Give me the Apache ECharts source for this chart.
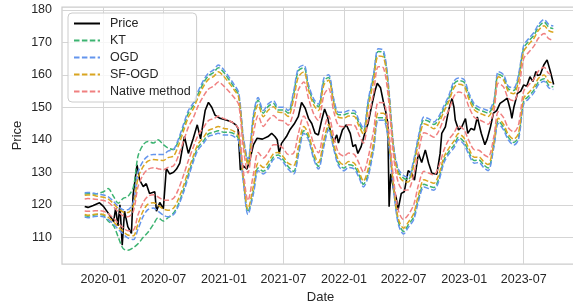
<!DOCTYPE html>
<html>
<head>
<meta charset="utf-8">
<script src="https://cdn.jsdelivr.net/npm/echarts@6/dist/echarts.min.js"></script>
<style>
  html, body { margin: 0; padding: 0; background: #fff; }
  #chart { width: 573px; height: 304px; }
</style>
</head>
<body>
<div id="chart"></div>
<script>
// price series
const priceDates = [
  "2019-11-05", "2019-11-15", "2019-12-01", "2019-12-20", "2020-01-01", "2020-01-15", "2020-02-01", "2020-02-07", "2020-02-14", "2020-02-20",
  "2020-02-27", "2020-03-05", "2020-03-15", "2020-03-26", "2020-03-31", "2020-04-12", "2020-04-20", "2020-05-01", "2020-05-10", "2020-05-20",
  "2020-06-05", "2020-06-10", "2020-06-20", "2020-07-01", "2020-07-10", "2020-07-20", "2020-08-01", "2020-08-10", "2020-08-20", "2020-09-03",
  "2020-09-15", "2020-09-30", "2020-10-12", "2020-10-22", "2020-11-05", "2020-11-15", "2020-11-25", "2020-12-05", "2020-12-20", "2021-01-10",
  "2021-01-25", "2021-02-07", "2021-02-13", "2021-02-20", "2021-03-01", "2021-03-12", "2021-03-20", "2021-04-01", "2021-04-12", "2021-04-28",
  "2021-05-15", "2021-05-26", "2021-06-05", "2021-06-12", "2021-06-18", "2021-06-25", "2021-07-10", "2021-07-20", "2021-08-04", "2021-08-15",
  "2021-08-25", "2021-09-05", "2021-09-15", "2021-09-25", "2021-10-05", "2021-10-15", "2021-10-25", "2021-11-03", "2021-11-12", "2021-11-20",
  "2021-11-25", "2021-12-01", "2021-12-10", "2021-12-15", "2021-12-27", "2022-01-08", "2022-01-20", "2022-01-28", "2022-02-05", "2022-02-12",
  "2022-02-22", "2022-03-05", "2022-03-15", "2022-03-25", "2022-04-05", "2022-04-12", "2022-04-22", "2022-05-02", "2022-05-08", "2022-05-14",
  "2022-05-18", "2022-05-23", "2022-06-01", "2022-06-08", "2022-06-14", "2022-06-24", "2022-07-03", "2022-07-15", "2022-07-25", "2022-08-03",
  "2022-08-15", "2022-08-25", "2022-09-05", "2022-09-15", "2022-09-25", "2022-10-10", "2022-10-20", "2022-10-25", "2022-11-05", "2022-11-15",
  "2022-11-25", "2022-12-01", "2022-12-05", "2022-12-15", "2022-12-25", "2023-01-05", "2023-01-12", "2023-01-22", "2023-02-01", "2023-02-10",
  "2023-02-22", "2023-03-05", "2023-03-12", "2023-03-22", "2023-03-31", "2023-04-10", "2023-04-20", "2023-05-01", "2023-05-12", "2023-05-22",
  "2023-05-26", "2023-06-01", "2023-06-12", "2023-06-22", "2023-07-01", "2023-07-10", "2023-07-20", "2023-07-29", "2023-08-07", "2023-08-12",
  "2023-08-20", "2023-08-31", "2023-09-10", "2023-09-20", "2023-09-30"
];
const priceValues = [
  119.5, 119.2, 119.8, 120.6, 119.5, 117.5, 114.8, 119.0, 113.5, 120.0,
  107.6, 118.0, 113.3, 111.2, 123.0, 132.3, 127.6, 125.6, 126.5, 123.5,
  124.0, 118.0, 120.7, 118.8, 131.2, 129.5, 130.0, 131.0, 132.8, 141.0,
  135.8, 140.5, 144.6, 140.3, 149.0, 151.5, 150.0, 147.6, 146.6, 146.0,
  145.5, 144.5, 143.5, 130.7, 132.0, 131.0, 133.5, 138.5, 140.5, 140.2,
  141.0, 142.0, 141.0, 140.0, 135.8, 138.9, 141.0, 143.0, 145.1, 147.1,
  151.5, 149.7, 146.6, 145.0, 142.0, 141.5, 146.0, 149.5, 147.0, 143.0,
  141.0, 139.4, 141.5, 139.0, 143.0, 144.6, 142.0, 137.9, 138.5, 135.8,
  137.9, 142.0, 145.0, 150.0, 155.0, 157.4, 156.0, 151.0, 148.5, 145.1,
  119.4, 129.5, 124.6, 122.5, 118.4, 123.5, 124.0, 130.5, 129.7, 127.6,
  135.8, 133.0, 136.9, 132.8, 129.7, 129.4, 135.8, 142.0, 144.0, 149.2,
  152.7, 150.0, 146.1, 143.0, 144.0, 146.5, 142.0, 143.5, 143.0, 147.0,
  142.0, 138.5, 140.2, 144.0, 148.2, 149.0, 151.2, 152.0, 152.8, 149.0,
  146.6, 150.0, 154.3, 155.0, 156.9, 156.5, 159.4, 157.9, 161.0, 159.8,
  160.0, 163.0, 164.6, 161.0, 157.0
];

// interval bounds, sampled on the 1st and 15th of each month
const bandDates = [
  "2019-11-05", "2019-11-15", "2019-12-01", "2019-12-15",
  "2020-01-01", "2020-01-15", "2020-02-01", "2020-02-15", "2020-03-01", "2020-03-15", "2020-04-01", "2020-04-15",
  "2020-05-01", "2020-05-15", "2020-06-01", "2020-06-15", "2020-07-01", "2020-07-15", "2020-08-01", "2020-08-15",
  "2020-09-01", "2020-09-15", "2020-10-01", "2020-10-15", "2020-11-01", "2020-11-15", "2020-12-01", "2020-12-15",
  "2021-01-01", "2021-01-15", "2021-02-01", "2021-02-15", "2021-03-01", "2021-03-15", "2021-04-01", "2021-04-15",
  "2021-05-01", "2021-05-15", "2021-06-01", "2021-06-15", "2021-07-01", "2021-07-15", "2021-08-01", "2021-08-15",
  "2021-09-01", "2021-09-15", "2021-10-01", "2021-10-15", "2021-11-01", "2021-11-15", "2021-12-01", "2021-12-15",
  "2022-01-01", "2022-01-15", "2022-02-01", "2022-02-15", "2022-03-01", "2022-03-15", "2022-04-01", "2022-04-15",
  "2022-05-01", "2022-05-15", "2022-06-01", "2022-06-15", "2022-07-01", "2022-07-15", "2022-08-01", "2022-08-15",
  "2022-09-01", "2022-09-15", "2022-10-01", "2022-10-15", "2022-11-01", "2022-11-15", "2022-12-01", "2022-12-15",
  "2023-01-01", "2023-01-15", "2023-02-01", "2023-02-15", "2023-03-01", "2023-03-15", "2023-04-01", "2023-04-15",
  "2023-05-01", "2023-05-15", "2023-06-01", "2023-06-15", "2023-07-01", "2023-07-15", "2023-08-01", "2023-08-15",
  "2023-09-01", "2023-09-15", "2023-09-29"
];

const ktUpper = [
  123.3, 123.4, 123.3, 123.5,
  124.0, 125.0, 122.5, 120.5, 122.0, 122.5, 125.5, 135.0, 138.5, 139.5, 139.0, 140.0, 138.5, 137.5, 137.0, 139.5, 144.2, 148.2, 150.7, 154.2, 157.7, 159.7, 160.7, 162.2,
  160.7, 158.7, 156.2, 153.7, 140.2, 133.2, 147.2, 152.2, 148.2, 150.2, 151.2, 149.2, 149.2, 148.2, 154.2, 161.2, 162.2, 156.2, 151.7, 150.2, 158.2, 159.2, 151.7, 147.7,
  147.7, 148.2, 148.2, 145.2, 142.7, 151.2, 159.7, 167.2, 166.7, 157.2, 137.2, 130.2, 128.2, 127.7, 133.2, 140.2, 146.2, 145.7, 144.7, 146.2, 149.7, 152.7, 157.2, 158.2,
  157.7, 153.7, 150.2, 149.2, 148.7, 148.2, 151.2, 160.2, 159.2, 155.7, 155.2, 159.2, 168.2, 170.2, 172.2, 174.7, 176.2, 174.7, 174.2
];
const ktLower = [
  116.6, 116.5, 116.8, 117.0,
  116.8, 115.0, 113.5, 110.0, 106.5, 106.0, 106.8, 108.0, 110.0, 111.5, 114.0, 116.0, 115.0, 116.0, 117.5, 120.0, 124.8, 129.3, 134.3, 137.8, 139.8, 141.8, 142.3, 142.8,
  142.3, 142.3, 141.8, 140.3, 127.8, 117.8, 124.3, 131.3, 130.3, 131.8, 134.8, 135.3, 133.8, 131.8, 130.3, 135.8, 142.8, 140.8, 134.8, 131.8, 138.8, 143.8, 137.8, 132.8,
  131.3, 132.3, 131.8, 129.3, 126.3, 129.3, 137.8, 146.8, 146.8, 140.8, 124.8, 114.8, 111.8, 113.8, 116.3, 121.8, 126.3, 125.8, 125.3, 127.8, 133.8, 136.3, 138.3, 140.8,
  139.3, 136.3, 133.6, 133.8, 132.3, 131.3, 138.3, 145.8, 143.8, 140.8, 139.2, 140.8, 151.8, 153.3, 155.3, 157.8, 158.8, 156.8, 156.3
];
const ogdUpper = [
  123.7, 123.8, 123.6, 123.3,
  123.0, 122.5, 121.0, 119.5, 118.5, 118.5, 121.0, 130.0, 133.5, 135.0, 135.5, 135.5, 135.5, 136.5, 137.0, 140.0, 145.0, 149.0, 151.5, 155.0, 158.5, 160.5, 161.5, 163.0,
  161.5, 159.5, 157.0, 154.5, 141.0, 134.0, 148.0, 153.0, 149.0, 151.0, 152.0, 150.0, 150.0, 149.0, 155.0, 162.0, 163.0, 157.0, 152.5, 151.0, 159.0, 160.0, 152.5, 148.5,
  148.5, 149.0, 149.0, 146.0, 143.5, 152.0, 160.5, 168.0, 167.5, 158.0, 138.0, 131.0, 129.0, 128.5, 134.0, 141.0, 147.0, 146.5, 145.5, 147.0, 150.5, 153.5, 158.0, 159.0,
  158.5, 154.5, 151.0, 150.0, 149.5, 149.0, 152.0, 161.0, 160.0, 156.5, 156.0, 160.0, 169.0, 171.0, 173.0, 175.5, 177.0, 175.5, 175.0
];
const ogdLower = [
  116.2, 116.0, 116.3, 116.5,
  116.3, 115.5, 114.0, 112.5, 111.0, 109.8, 109.3, 112.5, 116.5, 118.5, 119.0, 118.0, 116.8, 116.3, 117.0, 119.5, 124.0, 128.5, 133.5, 137.0, 139.0, 141.0, 141.5, 142.0,
  141.5, 141.5, 141.0, 139.5, 127.0, 117.0, 123.5, 130.5, 129.5, 131.0, 134.0, 134.5, 133.0, 131.0, 129.5, 135.0, 142.0, 140.0, 134.0, 131.0, 138.0, 143.0, 137.0, 132.0,
  130.5, 131.5, 131.0, 128.5, 125.5, 128.5, 137.0, 146.0, 146.0, 140.0, 124.0, 114.0, 111.0, 113.0, 115.5, 121.0, 125.5, 125.0, 124.5, 127.0, 133.0, 135.5, 137.5, 140.0,
  138.5, 135.5, 132.8, 133.0, 131.5, 130.5, 137.5, 145.0, 143.0, 140.0, 138.4, 140.0, 151.0, 152.5, 154.5, 157.0, 158.0, 156.0, 155.5
];
const sfUpper = [
  122.9, 123.0, 122.9, 122.6,
  122.3, 121.8, 120.3, 118.8, 117.8, 117.6, 119.8, 128.3, 131.8, 133.4, 133.9, 133.8, 133.6, 134.5, 135.0, 138.0, 142.9, 147.0, 149.7, 153.2, 156.6, 158.6, 159.5, 160.9,
  159.5, 157.7, 155.4, 153.0, 139.6, 132.3, 145.6, 150.8, 147.1, 149.0, 150.2, 148.5, 148.3, 147.2, 152.5, 159.3, 160.9, 155.3, 150.7, 149.0, 156.9, 158.3, 151.0, 146.9,
  146.7, 147.3, 147.2, 144.3, 141.7, 149.7, 158.2, 165.8, 165.4, 156.2, 136.6, 129.3, 127.2, 127.0, 132.2, 139.0, 144.9, 144.4, 143.4, 145.0, 148.8, 151.7, 156.0, 157.1,
  156.5, 152.6, 149.2, 148.3, 147.7, 147.2, 150.6, 159.4, 158.3, 154.9, 154.2, 158.0, 167.2, 169.2, 171.2, 173.7, 175.1, 173.6, 173.1
];
const sfLower = [
  117.0, 116.8, 117.0, 117.2,
  117.0, 116.2, 114.7, 113.2, 111.8, 110.7, 110.5, 114.2, 118.2, 120.2, 120.6, 119.8, 118.7, 118.3, 119.0, 121.6, 126.1, 130.6, 135.3, 138.8, 140.9, 142.9, 143.5, 144.1,
  143.5, 143.3, 142.6, 141.0, 128.4, 118.7, 126.0, 132.8, 131.5, 133.0, 135.8, 136.1, 134.7, 132.8, 132.1, 137.7, 144.1, 141.7, 135.9, 133.0, 140.1, 144.7, 138.6, 133.7,
  132.3, 133.3, 132.8, 130.3, 127.3, 130.9, 139.4, 148.2, 148.2, 141.8, 125.4, 115.7, 112.8, 114.6, 117.4, 123.0, 127.7, 127.2, 126.6, 129.0, 134.8, 137.3, 139.6, 141.9,
  140.5, 137.4, 134.6, 134.7, 133.3, 132.4, 138.9, 146.6, 144.7, 141.7, 140.2, 142.0, 152.8, 154.4, 156.3, 158.9, 159.9, 157.9, 157.5
];
const nativeUpper = [
  121.8, 121.9, 121.8, 121.6,
  121.3, 120.8, 119.3, 117.8, 116.6, 116.3, 118.1, 125.6, 129.3, 130.9, 131.4, 131.1, 130.8, 131.5, 132.0, 134.9, 139.8, 143.9, 147.0, 150.5, 153.6, 155.6, 156.5, 157.8,
  156.5, 155.0, 153.0, 150.8, 137.5, 129.8, 141.9, 147.4, 144.1, 146.0, 147.5, 146.1, 145.8, 144.5, 148.6, 155.3, 157.8, 152.8, 147.9, 146.0, 153.8, 155.8, 148.6, 144.4,
  144.0, 144.6, 144.5, 141.6, 139.0, 146.1, 154.6, 162.5, 162.1, 153.5, 134.5, 126.8, 124.5, 124.6, 129.4, 136.0, 142.2, 141.7, 140.8, 142.5, 146.6, 149.0, 153.4, 154.7,
  154.0, 150.2, 146.9, 146.2, 145.5, 144.8, 148.7, 157.4, 156.2, 152.8, 152.0, 155.5, 165.0, 166.8, 168.8, 171.3, 172.7, 171.1, 170.6
];
const nativeLower = [
  118.1, 118.0, 118.1, 118.2,
  118.0, 117.3, 115.8, 114.3, 112.9, 112.0, 112.2, 116.9, 120.8, 122.6, 123.1, 122.4, 121.5, 121.4, 122.0, 124.6, 129.3, 133.6, 138.0, 141.5, 143.9, 145.9, 146.5, 147.3,
  146.5, 146.0, 145.0, 143.3, 130.5, 121.3, 129.6, 136.1, 134.4, 136.0, 138.5, 138.4, 137.3, 135.5, 135.9, 141.8, 147.3, 144.3, 138.6, 136.0, 143.3, 147.3, 140.9, 136.1,
  135.0, 135.9, 135.5, 132.9, 130.0, 134.4, 142.9, 151.5, 151.4, 144.5, 127.5, 118.3, 115.5, 116.9, 120.1, 126.0, 130.3, 129.8, 129.2, 131.5, 136.9, 140.0, 142.1, 144.3,
  143.0, 139.8, 136.9, 136.8, 135.5, 134.7, 140.8, 148.6, 146.8, 143.7, 142.4, 144.5, 155.0, 156.7, 158.7, 161.2, 162.3, 160.4, 159.9
];

// tick labels
const xTicks = ["2020-01-01", "2020-07-01", "2021-01-01", "2021-07-01", "2022-01-01", "2022-07-01", "2023-01-01", "2023-07-01"];
const yTicks = [110, 120, 130, 140, 150, 160, 170, 180];

const font = '"Liberation Sans", Arial, "DejaVu Sans", sans-serif';
const textColor = "#262626";
const gridColor = "#d5d5d5";

const chart = echarts.init(document.getElementById("chart"));

// dates become timestamps on a plain value axis
const toTime = (s) => +echarts.time.parse(s);
const pairs = (dates, vals) => dates.map((d, i) => [toTime(d), vals[i]]);

// one dashed line of an interval (upper or lower bound)
function bound(name, color, vals) {
  return {
    name: name,
    type: "line",
    data: pairs(bandDates, vals),
    symbol: "none",
    smooth: 0.3,
    lineStyle: { color: color, width: 1.5, type: [5.5, 2.4] },
    itemStyle: { color: color },
  };
}

const series = [
  {
    name: "Price",
    type: "line",
    data: pairs(priceDates, priceValues),
    symbol: "none",
    lineStyle: { color: "#000000", width: 1.6 },
    itemStyle: { color: "#000000" },
  },
  bound("KT", "#3cb371", ktUpper),
  bound("KT", "#3cb371", ktLower),
  bound("OGD", "#6495ed", ogdUpper),
  bound("OGD", "#6495ed", ogdLower),
  bound("SF-OGD", "#daa520", sfUpper),
  bound("SF-OGD", "#daa520", sfLower),
  bound("Native method", "#f08080", nativeUpper),
  bound("Native method", "#f08080", nativeLower),
];

const xTickValues = xTicks.map(toTime);

const options = {
  animation: false,
  backgroundColor: "#ffffff",
  grid: {
    left: 62,
    right: -6,
    top: 7,
    bottom: 40,
    outerBoundsMode: "none",
    show: true,
    borderColor: "#cccccc",
    borderWidth: 1.25,
  },
  legend: {
    orient: "vertical",
    left: 68,
    top: 13,
    itemWidth: 26,
    itemHeight: 14,
    itemGap: 4,
    padding: [4, 6, 4, 5],
    backgroundColor: "rgba(255,255,255,0.8)",
    borderColor: "#cccccc",
    borderWidth: 1,
    borderRadius: 4,
    itemStyle: { opacity: 0 },
    textStyle: { fontFamily: font, fontSize: 12.5, color: textColor, padding: [0, 0, 0, 5] },
    data: ["Price", "KT", "OGD", "SF-OGD", "Native method"],
  },
  xAxis: {
    type: "value",
    min: toTime("2019-08-28"),
    max: toTime("2023-12-16"),
    name: "Date",
    nameLocation: "middle",
    nameGap: 27,
    nameMoveOverlap: false,
    nameTextStyle: { fontFamily: font, fontSize: 13, color: textColor },
    axisLine: { show: false },
    axisTick: { show: false, customValues: xTickValues },
    axisLabel: {
      customValues: xTickValues,
      formatter: (v) => echarts.time.format(v, "{yyyy}-{MM}", false),
      margin: 9,
      fontFamily: font,
      fontSize: 12.5,
      color: textColor,
    },
    splitLine: { show: true, lineStyle: { color: gridColor, width: 1 } },
  },
  yAxis: {
    type: "value",
    min: 101.78,
    max: 180.86,
    name: "Price",
    nameLocation: "middle",
    nameGap: 38,
    nameMoveOverlap: false,
    nameTextStyle: { fontFamily: font, fontSize: 13, color: textColor },
    axisLine: { show: false },
    axisTick: { show: false, customValues: yTicks },
    axisLabel: {
      customValues: yTicks,
      margin: 10,
      fontFamily: font,
      fontSize: 12.5,
      color: textColor,
    },
    splitLine: { show: true, lineStyle: { color: gridColor, width: 1 } },
  },
  series: series,
};

chart.setOption(options);
</script>
</body>
</html>
